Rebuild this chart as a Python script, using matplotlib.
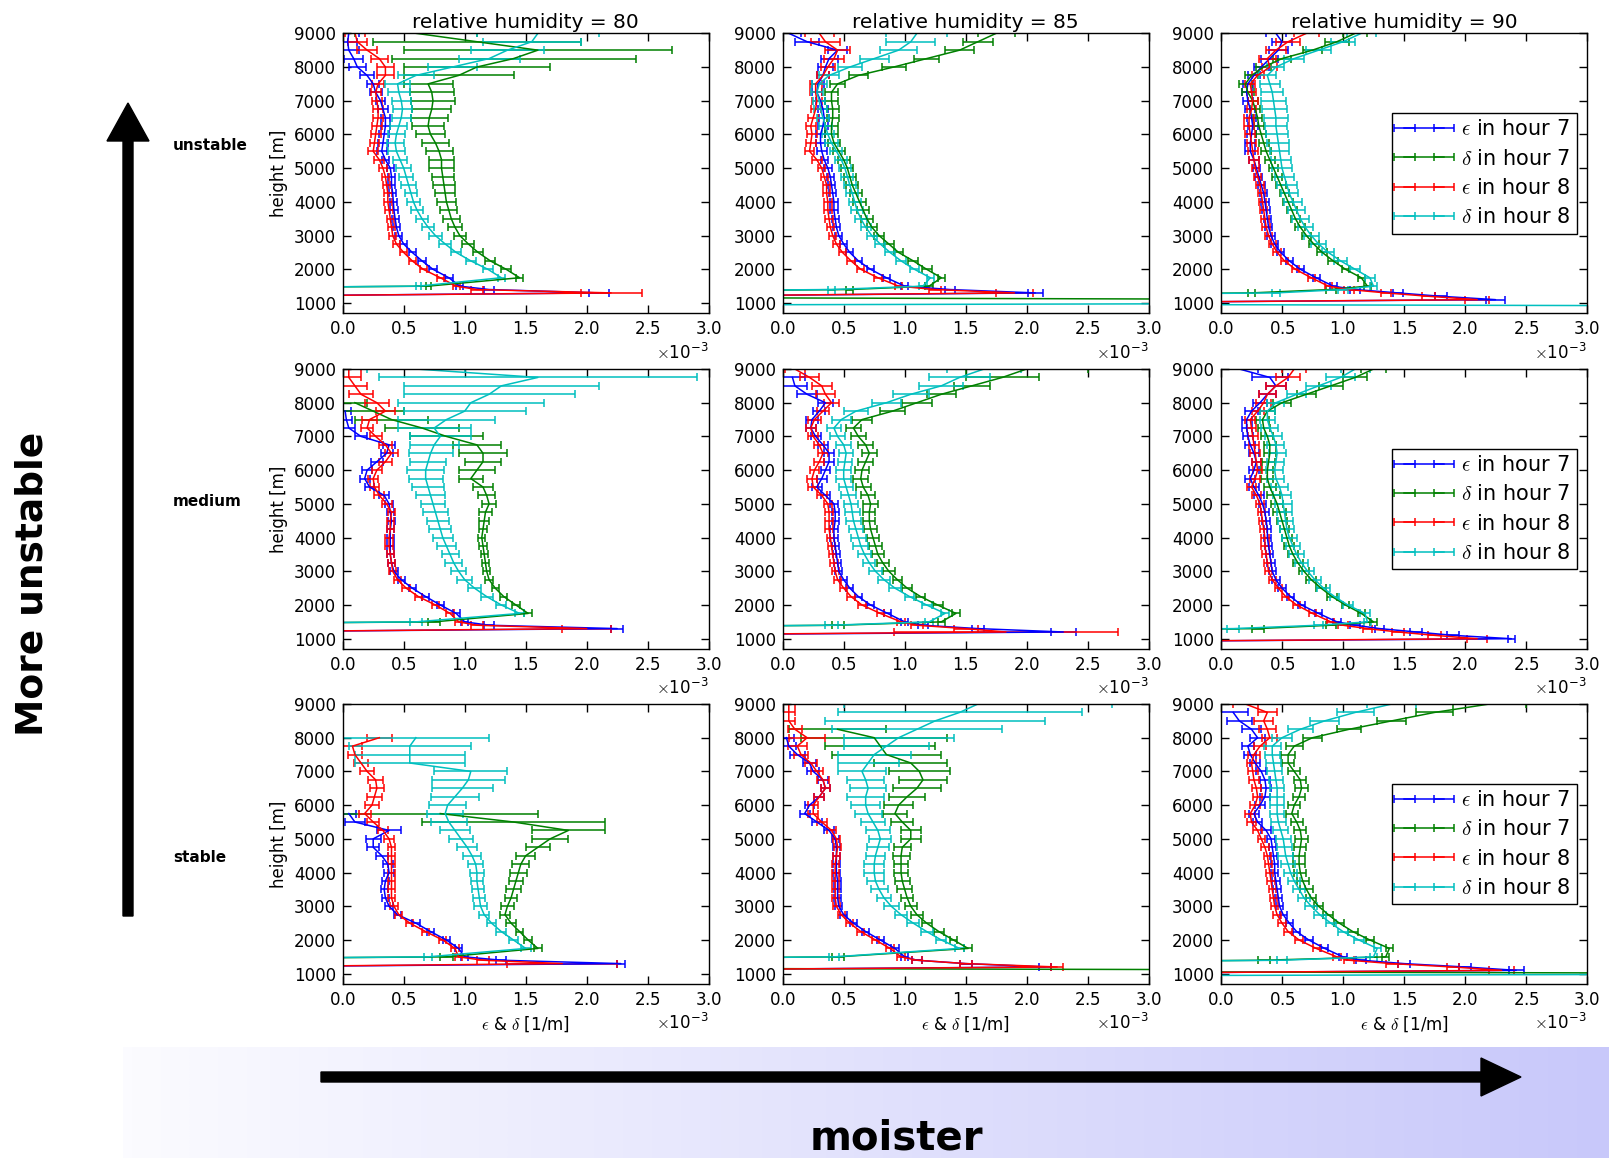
import numpy as np
import matplotlib
matplotlib.use("Agg")
import matplotlib.pyplot as plt
from matplotlib.patches import FancyArrow
from matplotlib.colors import LinearSegmentedColormap

plt.rcParams["mathtext.fontset"] = "cm"

nan = float("nan")

# ---------------------------------------------------------------- data ----
# profile levels [m]
HEIGHT = [900, 1000, 1100, 1200, 1300, 1400,
          1500, 1750, 2000, 2250, 2500, 2750, 3000, 3250, 3500, 3750,
          4000, 4250, 4500, 4750, 5000, 5250, 5500, 5750, 6000, 6250,
          6500, 6750, 7000, 7250, 7500, 7750, 8000, 8250, 8500, 8750, 9000]

HUMIDITY = [80, 85, 90]
STABILITY = ["unstable", "medium", "stable"]
SERIES_LABELS = [r"$\epsilon$ in hour 7", r"$\delta$ in hour 7",
                 r"$\epsilon$ in hour 8", r"$\delta$ in hour 8"]
SERIES_COLORS = ["b", "g", "r", "c"]

# values in units of 1e-3 1/m
# ---------- unstable, RH 80
unstable_80_eps7 = [nan, nan, nan, -1.0, 2.10, 1.20,
    0.96, 0.87, 0.74, 0.65, 0.57, 0.50, 0.46, 0.44, 0.43, 0.42,
    0.415, 0.41, 0.40, 0.40, 0.39, 0.35, 0.32, 0.33, 0.34, 0.35,
    0.35, 0.33, 0.31, 0.27, 0.25, 0.20, 0.12, 0.09, 0.05, 0.04, 0.05]
unstable_80_eps7_err = [nan, nan, nan, 0.05, 0.08, 0.04,
    0.03, 0.03, 0.03, 0.03, 0.03, 0.03, 0.03, 0.03, 0.03, 0.03,
    0.03, 0.03, 0.03, 0.03, 0.03, 0.03, 0.04, 0.04, 0.04, 0.04,
    0.04, 0.04, 0.04, 0.05, 0.05, 0.06, 0.07, 0.08, 0.08, 0.08, 0.08]
unstable_80_del7 = [nan, nan, nan, nan, nan, -3.0,
    0.70, 1.45, 1.34, 1.21, 1.11, 1.03, 0.96, 0.92, 0.89, 0.87,
    0.85, 0.84, 0.83, 0.82, 0.81, 0.81, 0.79, 0.76, 0.72, 0.70,
    0.71, 0.73, 0.74, 0.73, 0.70, 0.95, 1.10, 1.40, 1.60, 1.10, 0.60]
unstable_80_del7_err = [nan, nan, nan, nan, nan, 0.05,
    0.02, 0.03, 0.04, 0.04, 0.04, 0.05, 0.05, 0.06, 0.07, 0.07,
    0.08, 0.08, 0.09, 0.09, 0.10, 0.10, 0.11, 0.11, 0.12, 0.13,
    0.15, 0.16, 0.18, 0.18, 0.20, 0.45, 0.60, 1.00, 1.10, 0.85, 0.50]
unstable_80_eps8 = [nan, nan, nan, -1.0, 2.20, 1.10,
    0.93, 0.80, 0.66, 0.57, 0.50, 0.44, 0.41, 0.40, 0.39, 0.38,
    0.37, 0.37, 0.36, 0.35, 0.33, 0.30, 0.25, 0.26, 0.27, 0.28,
    0.29, 0.29, 0.28, 0.27, 0.29, 0.35, 0.35, 0.30, 0.20, 0.12, 0.10]
unstable_80_eps8_err = [nan, nan, nan, 0.05, 0.25, 0.05,
    0.03, 0.03, 0.03, 0.03, 0.03, 0.03, 0.03, 0.03, 0.03, 0.03,
    0.03, 0.03, 0.03, 0.03, 0.03, 0.04, 0.04, 0.04, 0.04, 0.04,
    0.04, 0.04, 0.04, 0.04, 0.05, 0.07, 0.07, 0.07, 0.08, 0.08, 0.08]
unstable_80_del8 = [nan, nan, nan, nan, nan, -3.0,
    0.62, 1.30, 1.19, 1.05, 0.93, 0.84, 0.76, 0.70, 0.65, 0.61,
    0.58, 0.56, 0.54, 0.52, 0.50, 0.47, 0.44, 0.43, 0.44, 0.46,
    0.48, 0.49, 0.48, 0.46, 0.45, 0.60, 0.90, 1.20, 1.35, 1.55, 1.60]
unstable_80_del8_err = [nan, nan, nan, nan, nan, 0.05,
    0.02, 0.03, 0.04, 0.04, 0.04, 0.05, 0.05, 0.05, 0.05, 0.05,
    0.05, 0.05, 0.06, 0.06, 0.06, 0.06, 0.07, 0.07, 0.07, 0.07,
    0.08, 0.08, 0.08, 0.09, 0.10, 0.15, 0.20, 0.25, 0.30, 0.40, 0.50]

# ---------- unstable, RH 85
unstable_85_eps7 = [nan, nan, nan, -1.0, 2.07, 1.37,
    1.00, 0.85, 0.72, 0.62, 0.55, 0.50, 0.46, 0.44, 0.43, 0.42,
    0.42, 0.41, 0.40, 0.39, 0.37, 0.34, 0.32, 0.31, 0.31, 0.33,
    0.34, 0.33, 0.31, 0.28, 0.29, 0.33, 0.35, 0.38, 0.45, 0.20, 0.05]
unstable_85_eps7_err = [nan, nan, nan, 0.05, 0.06, 0.04,
    0.03, 0.03, 0.03, 0.03, 0.03, 0.03, 0.03, 0.03, 0.03, 0.03,
    0.03, 0.03, 0.03, 0.03, 0.03, 0.03, 0.04, 0.04, 0.04, 0.04,
    0.04, 0.04, 0.04, 0.04, 0.05, 0.05, 0.06, 0.07, 0.08, 0.10, 0.10]
unstable_85_del7 = [nan, nan, 5.0, -5.0, -3.0, 0.55,
    1.20, 1.30, 1.18, 1.07, 0.95, 0.87, 0.79, 0.73, 0.69, 0.66,
    0.63, 0.60, 0.57, 0.55, 0.53, 0.50, 0.46, 0.42, 0.40, 0.40,
    0.41, 0.41, 0.40, 0.40, 0.45, 0.62, 0.91, 1.18, 1.45, 1.60, 1.75]
unstable_85_del7_err = [nan, nan, 0.05, 0.05, 0.05, 0.03,
    0.03, 0.03, 0.04, 0.04, 0.04, 0.04, 0.04, 0.04, 0.05, 0.05,
    0.05, 0.05, 0.05, 0.05, 0.05, 0.05, 0.05, 0.05, 0.05, 0.05,
    0.05, 0.05, 0.05, 0.05, 0.06, 0.08, 0.10, 0.10, 0.12, 0.12, 0.15]
unstable_85_eps8 = [nan, nan, nan, -1.0, 1.90, 1.25,
    0.95, 0.78, 0.64, 0.56, 0.49, 0.44, 0.41, 0.39, 0.38, 0.37,
    0.37, 0.36, 0.36, 0.34, 0.32, 0.28, 0.22, 0.23, 0.24, 0.23,
    0.25, 0.27, 0.28, 0.27, 0.27, 0.33, 0.37, 0.42, 0.45, 0.35, 0.30]
unstable_85_eps8_err = [nan, nan, nan, 0.05, 0.15, 0.05,
    0.03, 0.03, 0.03, 0.03, 0.03, 0.03, 0.03, 0.03, 0.03, 0.03,
    0.03, 0.03, 0.03, 0.03, 0.03, 0.04, 0.04, 0.04, 0.04, 0.04,
    0.04, 0.04, 0.04, 0.05, 0.05, 0.05, 0.06, 0.08, 0.10, 0.12, 0.12]
unstable_85_del8 = [-6.0, 6.0, nan, nan, -3.0, 0.40,
    1.15, 1.21, 1.08, 0.97, 0.88, 0.80, 0.73, 0.68, 0.64, 0.61,
    0.59, 0.57, 0.55, 0.53, 0.51, 0.48, 0.44, 0.40, 0.37, 0.35,
    0.33, 0.31, 0.30, 0.28, 0.30, 0.38, 0.55, 0.75, 0.95, 1.05, 1.10]
unstable_85_del8_err = [0.05, 0.05, nan, nan, 0.05, 0.03,
    0.03, 0.03, 0.04, 0.04, 0.04, 0.04, 0.04, 0.04, 0.05, 0.05,
    0.05, 0.05, 0.05, 0.05, 0.05, 0.05, 0.05, 0.05, 0.05, 0.05,
    0.05, 0.05, 0.05, 0.05, 0.06, 0.08, 0.10, 0.12, 0.15, 0.20, 0.25]

# ---------- unstable, RH 90
unstable_90_eps7 = [nan, -1.5, 2.25, 1.80, 1.45, 1.10,
    0.92, 0.78, 0.65, 0.56, 0.49, 0.44, 0.41, 0.39, 0.38, 0.37,
    0.36, 0.35, 0.33, 0.31, 0.29, 0.27, 0.24, 0.24, 0.25, 0.26,
    0.25, 0.24, 0.22, 0.21, 0.22, 0.27, 0.33, 0.40, 0.47, 0.50, 0.45]
unstable_90_eps7_err = [nan, 0.05, 0.08, 0.05, 0.04, 0.04,
    0.03, 0.03, 0.03, 0.03, 0.03, 0.03, 0.03, 0.03, 0.03, 0.03,
    0.03, 0.03, 0.03, 0.03, 0.03, 0.04, 0.04, 0.04, 0.04, 0.04,
    0.04, 0.04, 0.04, 0.04, 0.04, 0.05, 0.06, 0.07, 0.08, 0.08, 0.08]
unstable_90_del7 = [nan, nan, nan, -3.0, 0.25, 0.90,
    1.20, 1.15, 1.02, 0.92, 0.83, 0.76, 0.70, 0.65, 0.61, 0.58,
    0.55, 0.52, 0.49, 0.46, 0.43, 0.40, 0.37, 0.35, 0.33, 0.31,
    0.30, 0.28, 0.26, 0.22, 0.20, 0.25, 0.35, 0.50, 0.75, 0.95, 1.10]
unstable_90_del7_err = [nan, nan, nan, 0.05, 0.03, 0.04,
    0.03, 0.03, 0.03, 0.04, 0.04, 0.04, 0.04, 0.04, 0.04, 0.04,
    0.04, 0.04, 0.04, 0.04, 0.04, 0.04, 0.04, 0.04, 0.04, 0.04,
    0.04, 0.04, 0.04, 0.05, 0.05, 0.05, 0.06, 0.07, 0.08, 0.10, 0.10]
unstable_90_eps8 = [nan, -1.5, 2.10, 1.70, 1.35, 1.05,
    0.88, 0.74, 0.61, 0.52, 0.46, 0.42, 0.39, 0.37, 0.36, 0.35,
    0.34, 0.33, 0.32, 0.30, 0.28, 0.27, 0.26, 0.25, 0.24, 0.23,
    0.23, 0.25, 0.26, 0.25, 0.24, 0.30, 0.40, 0.38, 0.45, 0.55, 0.70]
unstable_90_eps8_err = [nan, 0.05, 0.10, 0.05, 0.04, 0.04,
    0.03, 0.03, 0.03, 0.03, 0.03, 0.03, 0.03, 0.03, 0.03, 0.03,
    0.03, 0.03, 0.03, 0.03, 0.03, 0.04, 0.04, 0.04, 0.04, 0.04,
    0.04, 0.04, 0.04, 0.04, 0.04, 0.05, 0.06, 0.07, 0.08, 0.10, 0.10]
unstable_90_del8 = [6.0, -6.0, nan, -3.0, 0.45, 1.00,
    1.25, 1.22, 1.10, 0.98, 0.88, 0.80, 0.74, 0.69, 0.65, 0.62,
    0.59, 0.56, 0.54, 0.52, 0.50, 0.49, 0.48, 0.47, 0.46, 0.45,
    0.45, 0.44, 0.43, 0.42, 0.40, 0.38, 0.45, 0.60, 0.80, 1.00, 1.15]
unstable_90_del8_err = [0.05, 0.05, nan, 0.05, 0.03, 0.04,
    0.03, 0.04, 0.04, 0.05, 0.05, 0.06, 0.06, 0.06, 0.07, 0.07,
    0.07, 0.07, 0.08, 0.08, 0.08, 0.08, 0.08, 0.09, 0.09, 0.09,
    0.10, 0.10, 0.10, 0.09, 0.08, 0.07, 0.07, 0.08, 0.10, 0.10, 0.12]

# ---------- medium, RH 80
medium_80_eps7 = [nan, nan, nan, -1.0, 2.25, 1.20,
    1.00, 0.93, 0.80, 0.68, 0.57, 0.48, 0.42, 0.40, 0.39, 0.39,
    0.39, 0.39, 0.40, 0.39, 0.38, 0.34, 0.22, 0.18, 0.20, 0.28,
    0.36, 0.38, 0.15, 0.05, 0.03, 0.02, nan, nan, nan, nan, nan]
medium_80_eps7_err = [nan, nan, nan, 0.05, 0.05, 0.04,
    0.03, 0.03, 0.03, 0.03, 0.03, 0.03, 0.03, 0.03, 0.03, 0.03,
    0.03, 0.03, 0.03, 0.03, 0.03, 0.04, 0.04, 0.04, 0.04, 0.05,
    0.05, 0.05, 0.05, 0.05, 0.05, 0.05, nan, nan, nan, nan, nan]
medium_80_del7 = [nan, nan, nan, nan, nan, -3.0,
    0.75, 1.52, 1.42, 1.32, 1.25, 1.20, 1.18, 1.17, 1.16, 1.15,
    1.14, 1.15, 1.16, 1.17, 1.20, 1.18, 1.15, 1.05, 1.10, 1.15,
    1.15, 1.10, 0.85, 0.65, 0.40, 0.25, 0.10, nan, nan, nan, nan]
medium_80_del7_err = [nan, nan, nan, nan, nan, 0.05,
    0.05, 0.03, 0.03, 0.03, 0.03, 0.03, 0.03, 0.03, 0.03, 0.03,
    0.03, 0.03, 0.04, 0.05, 0.06, 0.07, 0.08, 0.10, 0.15, 0.15,
    0.20, 0.20, 0.30, 0.30, 0.30, 0.25, 0.10, nan, nan, nan, nan]
medium_80_eps8 = [nan, nan, nan, -1.0, 2.00, 1.10,
    0.95, 0.88, 0.76, 0.62, 0.52, 0.45, 0.41, 0.40, 0.39, 0.38,
    0.38, 0.39, 0.39, 0.40, 0.36, 0.30, 0.26, 0.25, 0.28, 0.35,
    0.40, 0.35, 0.27, 0.20, 0.22, 0.35, 0.28, 0.15, 0.10, 0.05, 0.05]
medium_80_eps8_err = [nan, nan, nan, 0.05, 0.20, 0.05,
    0.03, 0.03, 0.03, 0.03, 0.03, 0.03, 0.03, 0.03, 0.03, 0.03,
    0.03, 0.03, 0.03, 0.03, 0.04, 0.04, 0.04, 0.04, 0.04, 0.05,
    0.05, 0.05, 0.05, 0.05, 0.06, 0.08, 0.10, 0.10, 0.10, 0.10, 0.10]
medium_80_del8 = [nan, nan, nan, nan, nan, -3.0,
    0.60, 1.45, 1.30, 1.18, 1.08, 1.00, 0.95, 0.91, 0.88, 0.85,
    0.82, 0.80, 0.78, 0.76, 0.74, 0.72, 0.70, 0.68, 0.68, 0.70,
    0.72, 0.75, 0.80, 0.75, 0.85, 1.00, 1.05, 1.20, 1.30, 1.60, 0.60]
medium_80_del8_err = [nan, nan, nan, nan, nan, 0.05,
    0.05, 0.04, 0.04, 0.05, 0.05, 0.06, 0.06, 0.07, 0.07, 0.08,
    0.08, 0.09, 0.09, 0.10, 0.10, 0.12, 0.13, 0.14, 0.15, 0.15,
    0.18, 0.20, 0.25, 0.30, 0.40, 0.50, 0.60, 0.70, 0.80, 1.30, 0.40]

# ---------- medium, RH 85
medium_85_eps7 = [nan, nan, -1.5, 2.30, 1.60, 1.15,
    1.00, 0.86, 0.72, 0.62, 0.55, 0.50, 0.46, 0.45, 0.44, 0.43,
    0.42, 0.42, 0.43, 0.43, 0.42, 0.35, 0.28, 0.32, 0.35, 0.38,
    0.38, 0.33, 0.27, 0.23, 0.24, 0.30, 0.35, 0.20, 0.10, 0.08, nan]
medium_85_eps7_err = [nan, nan, 0.05, 0.10, 0.05, 0.04,
    0.03, 0.03, 0.03, 0.03, 0.03, 0.03, 0.03, 0.03, 0.03, 0.03,
    0.03, 0.03, 0.03, 0.03, 0.03, 0.04, 0.04, 0.04, 0.04, 0.04,
    0.04, 0.04, 0.04, 0.04, 0.05, 0.05, 0.06, 0.08, 0.10, 0.10, nan]
medium_85_del7 = [nan, nan, nan, nan, -3.0, 0.45,
    1.30, 1.42, 1.27, 1.13, 1.02, 0.94, 0.87, 0.82, 0.78, 0.76,
    0.74, 0.72, 0.71, 0.71, 0.72, 0.70, 0.66, 0.64, 0.65, 0.68,
    0.71, 0.68, 0.62, 0.58, 0.65, 0.90, 1.10, 1.30, 1.55, 1.80, 2.00]
medium_85_del7_err = [nan, nan, nan, nan, 0.05, 0.05,
    0.03, 0.03, 0.04, 0.04, 0.04, 0.04, 0.05, 0.05, 0.05, 0.05,
    0.05, 0.05, 0.05, 0.05, 0.06, 0.06, 0.06, 0.06, 0.06, 0.06,
    0.06, 0.06, 0.06, 0.06, 0.08, 0.10, 0.12, 0.12, 0.15, 0.30, 0.50]
medium_85_eps8 = [nan, nan, -1.5, 1.83, 1.50, 1.10,
    0.97, 0.80, 0.65, 0.56, 0.50, 0.45, 0.43, 0.42, 0.41, 0.40,
    0.39, 0.38, 0.38, 0.38, 0.37, 0.32, 0.25, 0.24, 0.26, 0.30,
    0.33, 0.30, 0.25, 0.23, 0.26, 0.33, 0.40, 0.35, 0.32, 0.22, 0.10]
medium_85_eps8_err = [nan, nan, 0.05, 0.92, 0.10, 0.05,
    0.03, 0.03, 0.03, 0.03, 0.03, 0.03, 0.03, 0.03, 0.03, 0.03,
    0.03, 0.03, 0.03, 0.03, 0.03, 0.04, 0.04, 0.04, 0.04, 0.04,
    0.04, 0.04, 0.04, 0.04, 0.05, 0.05, 0.06, 0.08, 0.08, 0.08, 0.08]
medium_85_del8 = [nan, nan, nan, nan, -3.0, 0.40,
    1.20, 1.33, 1.18, 1.04, 0.92, 0.83, 0.76, 0.71, 0.67, 0.64,
    0.62, 0.60, 0.58, 0.57, 0.56, 0.54, 0.52, 0.50, 0.50, 0.51,
    0.52, 0.50, 0.45, 0.42, 0.48, 0.60, 0.85, 1.05, 1.30, 1.45, 1.65]
medium_85_del8_err = [nan, nan, nan, nan, 0.05, 0.05,
    0.03, 0.03, 0.04, 0.04, 0.05, 0.05, 0.05, 0.05, 0.05, 0.06,
    0.06, 0.06, 0.06, 0.06, 0.06, 0.06, 0.06, 0.06, 0.06, 0.06,
    0.06, 0.06, 0.06, 0.06, 0.08, 0.10, 0.12, 0.15, 0.18, 0.25, 0.30]

# ---------- medium, RH 90
medium_90_eps7 = [-1.5, 2.38, 1.90, 1.60, 1.30, 1.10,
    0.95, 0.80, 0.66, 0.57, 0.50, 0.45, 0.42, 0.41, 0.40, 0.39,
    0.38, 0.38, 0.37, 0.36, 0.34, 0.31, 0.27, 0.24, 0.27, 0.29,
    0.27, 0.24, 0.22, 0.21, 0.21, 0.25, 0.32, 0.38, 0.45, 0.40, 0.15]
medium_90_eps7_err = [0.05, 0.03, 0.05, 0.05, 0.04, 0.04,
    0.03, 0.03, 0.03, 0.03, 0.03, 0.03, 0.03, 0.03, 0.03, 0.03,
    0.03, 0.03, 0.03, 0.03, 0.03, 0.04, 0.04, 0.04, 0.04, 0.04,
    0.04, 0.04, 0.04, 0.04, 0.04, 0.05, 0.06, 0.07, 0.08, 0.15, 0.15]
medium_90_del7 = [nan, nan, nan, -3.0, 0.30, 0.90,
    1.25, 1.15, 1.02, 0.91, 0.82, 0.74, 0.68, 0.63, 0.59, 0.56,
    0.54, 0.52, 0.50, 0.48, 0.46, 0.43, 0.40, 0.38, 0.38, 0.39,
    0.40, 0.40, 0.38, 0.35, 0.34, 0.38, 0.50, 0.70, 0.90, 1.10, 1.25]
medium_90_del7_err = [nan, nan, nan, 0.05, 0.05, 0.04,
    0.03, 0.03, 0.03, 0.04, 0.04, 0.04, 0.04, 0.04, 0.04, 0.04,
    0.04, 0.04, 0.04, 0.05, 0.05, 0.05, 0.05, 0.05, 0.05, 0.05,
    0.05, 0.05, 0.05, 0.05, 0.05, 0.06, 0.07, 0.08, 0.10, 0.10, 0.10]
medium_90_eps8 = [-1.5, 2.10, 1.75, 1.45, 1.20, 1.00,
    0.90, 0.75, 0.62, 0.53, 0.47, 0.42, 0.39, 0.38, 0.37, 0.36,
    0.36, 0.35, 0.34, 0.33, 0.32, 0.29, 0.25, 0.28, 0.30, 0.29,
    0.28, 0.27, 0.26, 0.25, 0.24, 0.30, 0.35, 0.38, 0.45, 0.55, 0.60]
medium_90_eps8_err = [0.05, 0.08, 0.05, 0.05, 0.04, 0.04,
    0.03, 0.03, 0.03, 0.03, 0.03, 0.03, 0.03, 0.03, 0.03, 0.03,
    0.03, 0.03, 0.03, 0.03, 0.03, 0.04, 0.04, 0.04, 0.04, 0.04,
    0.04, 0.04, 0.04, 0.04, 0.04, 0.05, 0.06, 0.07, 0.08, 0.10, 0.10]
medium_90_del8 = [nan, nan, nan, -3.0, 0.10, 0.80,
    1.20, 1.18, 1.04, 0.93, 0.84, 0.77, 0.71, 0.66, 0.62, 0.59,
    0.56, 0.54, 0.53, 0.52, 0.51, 0.50, 0.48, 0.45, 0.44, 0.45,
    0.46, 0.45, 0.43, 0.40, 0.38, 0.38, 0.45, 0.62, 0.80, 0.98, 1.10]
medium_90_del8_err = [nan, nan, nan, 0.05, 0.05, 0.04,
    0.03, 0.04, 0.04, 0.04, 0.05, 0.05, 0.05, 0.05, 0.06, 0.06,
    0.06, 0.06, 0.06, 0.06, 0.07, 0.07, 0.07, 0.07, 0.07, 0.07,
    0.07, 0.07, 0.07, 0.07, 0.06, 0.06, 0.07, 0.08, 0.10, 0.12, 0.12]

# ---------- stable, RH 80
stable_80_eps7 = [nan, nan, nan, -1.0, 2.28, 1.30,
    1.00, 0.95, 0.85, 0.72, 0.60, 0.45, 0.38, 0.35, 0.34, 0.35,
    0.38, 0.37, 0.32, 0.25, 0.25, 0.38, 0.10, 0.05, nan, nan,
    nan, nan, nan, nan, nan, nan, nan, nan, nan, nan, nan]
stable_80_eps7_err = [nan, nan, nan, 0.05, 0.03, 0.04,
    0.03, 0.03, 0.03, 0.03, 0.03, 0.03, 0.03, 0.03, 0.03, 0.03,
    0.04, 0.04, 0.05, 0.05, 0.06, 0.10, 0.08, 0.06, nan, nan,
    nan, nan, nan, nan, nan, nan, nan, nan, nan, nan, nan]
stable_80_del7 = [nan, nan, nan, nan, nan, -3.0,
    0.85, 1.60, 1.52, 1.45, 1.38, 1.33, 1.35, 1.38, 1.40, 1.42,
    1.44, 1.46, 1.50, 1.60, 1.70, 1.85, 1.40, 0.80, nan, nan,
    nan, nan, nan, nan, nan, nan, nan, nan, nan, nan, nan]
stable_80_del7_err = [nan, nan, nan, nan, nan, 0.05,
    0.05, 0.03, 0.03, 0.03, 0.04, 0.04, 0.05, 0.05, 0.06, 0.06,
    0.07, 0.07, 0.08, 0.10, 0.15, 0.30, 0.75, 0.80, nan, nan,
    nan, nan, nan, nan, nan, nan, nan, nan, nan, nan, nan]
stable_80_eps8 = [nan, nan, nan, -1.0, 1.80, 1.15,
    0.95, 0.92, 0.82, 0.68, 0.55, 0.46, 0.42, 0.40, 0.40, 0.40,
    0.40, 0.40, 0.40, 0.40, 0.38, 0.33, 0.25, 0.18, 0.24, 0.26,
    0.28, 0.27, 0.20, 0.15, 0.10, 0.08, 0.30, nan, nan, nan, nan]
stable_80_eps8_err = [nan, nan, nan, 0.05, 0.45, 0.05,
    0.03, 0.03, 0.03, 0.03, 0.03, 0.03, 0.03, 0.03, 0.03, 0.03,
    0.03, 0.03, 0.03, 0.03, 0.04, 0.04, 0.05, 0.05, 0.06, 0.06,
    0.06, 0.06, 0.06, 0.06, 0.06, 0.08, 0.10, nan, nan, nan, nan]
stable_80_del8 = [nan, nan, nan, nan, nan, -3.0,
    0.70, 1.50, 1.40, 1.30, 1.22, 1.16, 1.13, 1.12, 1.11, 1.10,
    1.10, 1.09, 1.06, 1.02, 0.97, 0.92, 0.87, 0.84, 0.86, 0.92,
    0.98, 1.03, 1.05, 0.55, 0.55, 0.55, 0.60, nan, nan, nan, nan]
stable_80_del8_err = [nan, nan, nan, nan, nan, 0.05,
    0.03, 0.04, 0.04, 0.04, 0.04, 0.04, 0.05, 0.05, 0.05, 0.05,
    0.06, 0.06, 0.07, 0.08, 0.10, 0.12, 0.15, 0.15, 0.15, 0.20,
    0.25, 0.30, 0.30, 0.45, 0.45, 0.50, 0.60, nan, nan, nan, nan]

# ---------- stable, RH 85
stable_85_eps7 = [nan, nan, -1.5, 2.15, 1.50, 1.10,
    1.00, 0.92, 0.80, 0.68, 0.58, 0.50, 0.46, 0.45, 0.45, 0.45,
    0.44, 0.44, 0.44, 0.44, 0.43, 0.38, 0.28, 0.18, 0.22, 0.30,
    0.35, 0.33, 0.25, 0.22, 0.12, 0.05, 0.03, nan, nan, nan, nan]
stable_85_eps7_err = [nan, nan, 0.05, 0.05, 0.05, 0.04,
    0.03, 0.03, 0.03, 0.03, 0.03, 0.03, 0.03, 0.03, 0.03, 0.03,
    0.03, 0.03, 0.03, 0.03, 0.03, 0.04, 0.04, 0.04, 0.04, 0.04,
    0.04, 0.04, 0.05, 0.05, 0.06, 0.06, 0.06, nan, nan, nan, nan]
stable_85_del7 = [nan, nan, 6.0, -6.0, nan, -3.0,
    0.45, 1.52, 1.40, 1.28, 1.18, 1.10, 1.05, 1.02, 1.00, 0.98,
    0.97, 0.97, 0.97, 0.98, 1.05, 1.05, 0.98, 0.92, 0.95, 1.02,
    1.10, 1.15, 1.12, 1.05, 0.85, 0.80, 0.75, 0.45, nan, nan, nan]
stable_85_del7_err = [nan, nan, 0.05, 0.05, nan, 0.05,
    0.05, 0.03, 0.03, 0.04, 0.04, 0.05, 0.05, 0.05, 0.06, 0.06,
    0.06, 0.06, 0.07, 0.07, 0.08, 0.08, 0.09, 0.10, 0.12, 0.15,
    0.20, 0.20, 0.25, 0.30, 0.45, 0.45, 0.60, 0.40, nan, nan, nan]
stable_85_eps8 = [nan, nan, -1.5, 2.25, 1.50, 1.10,
    0.97, 0.88, 0.76, 0.64, 0.55, 0.48, 0.44, 0.43, 0.43, 0.43,
    0.43, 0.43, 0.44, 0.45, 0.44, 0.40, 0.32, 0.25, 0.25, 0.30,
    0.35, 0.33, 0.28, 0.23, 0.15, 0.12, 0.20, 0.10, 0.05, 0.05, 0.05]
stable_85_eps8_err = [nan, nan, 0.05, 0.05, 0.05, 0.04,
    0.03, 0.03, 0.03, 0.03, 0.03, 0.03, 0.03, 0.03, 0.03, 0.03,
    0.03, 0.03, 0.03, 0.03, 0.03, 0.04, 0.04, 0.04, 0.04, 0.04,
    0.04, 0.05, 0.05, 0.05, 0.06, 0.08, 0.15, 0.06, 0.05, 0.05, 0.05]
stable_85_del8 = [nan, nan, nan, nan, nan, -3.0,
    0.42, 1.45, 1.30, 1.18, 1.07, 0.97, 0.89, 0.83, 0.79, 0.76,
    0.75, 0.75, 0.76, 0.78, 0.80, 0.78, 0.74, 0.70, 0.68, 0.68,
    0.70, 0.68, 0.65, 0.70, 0.75, 0.85, 0.95, 1.10, 1.25, 1.45, 1.60]
stable_85_del8_err = [nan, nan, nan, nan, nan, 0.04,
    0.04, 0.04, 0.04, 0.05, 0.05, 0.05, 0.06, 0.06, 0.07, 0.07,
    0.08, 0.08, 0.08, 0.09, 0.09, 0.10, 0.10, 0.11, 0.12, 0.15,
    0.15, 0.15, 0.20, 0.25, 0.30, 0.35, 0.45, 0.70, 0.90, 1.00, 1.10]

# ---------- stable, RH 90
stable_90_eps7 = [nan, -1.5, 2.42, 2.00, 1.50, 1.15,
    1.00, 0.85, 0.72, 0.62, 0.56, 0.51, 0.48, 0.47, 0.46, 0.45,
    0.44, 0.44, 0.43, 0.42, 0.41, 0.37, 0.30, 0.27, 0.32, 0.36,
    0.37, 0.36, 0.33, 0.28, 0.24, 0.22, 0.30, 0.25, 0.15, 0.10, nan]
stable_90_eps7_err = [nan, 0.05, 0.06, 0.05, 0.05, 0.04,
    0.03, 0.03, 0.03, 0.03, 0.03, 0.03, 0.03, 0.03, 0.03, 0.03,
    0.03, 0.03, 0.03, 0.03, 0.03, 0.04, 0.04, 0.04, 0.04, 0.04,
    0.04, 0.04, 0.04, 0.04, 0.05, 0.05, 0.06, 0.08, 0.10, 0.12, nan]
stable_90_del7 = [nan, 6.0, -6.0, nan, -3.0, 0.35,
    1.35, 1.38, 1.22, 1.08, 0.97, 0.88, 0.80, 0.74, 0.70, 0.67,
    0.65, 0.64, 0.64, 0.65, 0.66, 0.65, 0.62, 0.58, 0.60, 0.64,
    0.66, 0.65, 0.60, 0.55, 0.55, 0.60, 0.75, 1.05, 1.40, 1.75, 2.20]
stable_90_del7_err = [nan, 0.05, 0.05, nan, 0.05, 0.05,
    0.03, 0.03, 0.03, 0.04, 0.04, 0.04, 0.04, 0.04, 0.05, 0.05,
    0.05, 0.05, 0.05, 0.05, 0.05, 0.05, 0.05, 0.05, 0.05, 0.05,
    0.05, 0.05, 0.05, 0.05, 0.06, 0.07, 0.08, 0.10, 0.12, 0.15, 0.30]
stable_90_eps8 = [nan, -1.5, 2.30, 1.90, 1.40, 1.05,
    0.95, 0.78, 0.64, 0.55, 0.50, 0.46, 0.44, 0.43, 0.42, 0.41,
    0.40, 0.39, 0.38, 0.36, 0.33, 0.30, 0.25, 0.24, 0.28, 0.30,
    0.29, 0.27, 0.26, 0.25, 0.27, 0.32, 0.40, 0.38, 0.35, 0.38, 0.20]
stable_90_eps8_err = [nan, 0.05, 0.10, 0.05, 0.05, 0.04,
    0.03, 0.03, 0.03, 0.03, 0.03, 0.03, 0.03, 0.03, 0.03, 0.03,
    0.03, 0.03, 0.03, 0.03, 0.03, 0.04, 0.04, 0.04, 0.04, 0.04,
    0.04, 0.04, 0.04, 0.04, 0.05, 0.05, 0.06, 0.07, 0.08, 0.08, 0.10]
stable_90_del8 = [-6.0, 6.0, nan, nan, -3.0, 0.50,
    1.25, 1.28, 1.13, 1.00, 0.90, 0.81, 0.74, 0.68, 0.64, 0.60,
    0.57, 0.55, 0.53, 0.52, 0.51, 0.49, 0.47, 0.46, 0.46, 0.46,
    0.46, 0.45, 0.44, 0.43, 0.42, 0.42, 0.50, 0.65, 0.85, 1.10, 1.40]
stable_90_del8_err = [0.05, 0.05, nan, nan, 0.05, 0.04,
    0.03, 0.03, 0.04, 0.04, 0.04, 0.05, 0.05, 0.05, 0.05, 0.05,
    0.05, 0.06, 0.06, 0.06, 0.06, 0.06, 0.06, 0.06, 0.06, 0.06,
    0.06, 0.06, 0.06, 0.06, 0.06, 0.07, 0.08, 0.10, 0.12, 0.15, 0.20]

PANELS = {
    ("unstable", 80): [(unstable_80_eps7, unstable_80_eps7_err), (unstable_80_del7, unstable_80_del7_err),
                       (unstable_80_eps8, unstable_80_eps8_err), (unstable_80_del8, unstable_80_del8_err)],
    ("unstable", 85): [(unstable_85_eps7, unstable_85_eps7_err), (unstable_85_del7, unstable_85_del7_err),
                       (unstable_85_eps8, unstable_85_eps8_err), (unstable_85_del8, unstable_85_del8_err)],
    ("unstable", 90): [(unstable_90_eps7, unstable_90_eps7_err), (unstable_90_del7, unstable_90_del7_err),
                       (unstable_90_eps8, unstable_90_eps8_err), (unstable_90_del8, unstable_90_del8_err)],
    ("medium", 80): [(medium_80_eps7, medium_80_eps7_err), (medium_80_del7, medium_80_del7_err),
                     (medium_80_eps8, medium_80_eps8_err), (medium_80_del8, medium_80_del8_err)],
    ("medium", 85): [(medium_85_eps7, medium_85_eps7_err), (medium_85_del7, medium_85_del7_err),
                     (medium_85_eps8, medium_85_eps8_err), (medium_85_del8, medium_85_del8_err)],
    ("medium", 90): [(medium_90_eps7, medium_90_eps7_err), (medium_90_del7, medium_90_del7_err),
                     (medium_90_eps8, medium_90_eps8_err), (medium_90_del8, medium_90_del8_err)],
    ("stable", 80): [(stable_80_eps7, stable_80_eps7_err), (stable_80_del7, stable_80_del7_err),
                     (stable_80_eps8, stable_80_eps8_err), (stable_80_del8, stable_80_del8_err)],
    ("stable", 85): [(stable_85_eps7, stable_85_eps7_err), (stable_85_del7, stable_85_del7_err),
                     (stable_85_eps8, stable_85_eps8_err), (stable_85_del8, stable_85_del8_err)],
    ("stable", 90): [(stable_90_eps7, stable_90_eps7_err), (stable_90_del7, stable_90_del7_err),
                     (stable_90_eps8, stable_90_eps8_err), (stable_90_del8, stable_90_del8_err)],
}
UNIT = 1e-3

# -------------------------------------------------------------- layout ----
W, H = 1609, 1158
fig = plt.figure(figsize=(W / 100, H / 100), dpi=100)

bg = fig.add_axes([0, 0, 1, 1])
band_cmap = LinearSegmentedColormap.from_list("band", ["#fbfbff", "#c8c8fa"])
bg.imshow(np.linspace(0, 1, 256)[None, :], extent=[123, W, H, 1047],
          cmap=band_cmap, aspect="auto", interpolation="bilinear")
bg.set_xlim(0, W)
bg.set_ylim(H, 0)
bg.axis("off")
bg.add_patch(FancyArrow(128, 916, 0, -813, width=10, head_width=42, head_length=38,
                        length_includes_head=True, color="black"))
bg.add_patch(FancyArrow(321, 1077, 1200, 0, width=10, head_width=38, head_length=40,
                        length_includes_head=True, color="black"))
bg.text(33, 584, "More unstable", rotation=90, fontsize=27, fontweight="bold",
        ha="center", va="center")
bg.text(896, 1138, "moister", fontsize=29, fontweight="bold", ha="center", va="center")
for lab, ypix in zip(STABILITY, [145, 502, 858]):
    bg.text(173, ypix, lab, fontsize=11, fontweight="bold", ha="left", va="center")

COL_LEFT = [342.7, 782.7, 1221.0]
ROW_TOP = [33.3, 369.0, 704.0]
AX_W, AX_H = 366.0, 280.0

for i, stab in enumerate(STABILITY):
    for j, rh in enumerate(HUMIDITY):
        ax = fig.add_axes([COL_LEFT[j] / W, 1 - (ROW_TOP[i] + AX_H) / H, AX_W / W, AX_H / H])
        for (vals, errs), col, lab in zip(PANELS[(stab, rh)], SERIES_COLORS, SERIES_LABELS):
            ax.errorbar(np.array(vals) * UNIT, HEIGHT, xerr=np.array(errs) * UNIT,
                        color=col, lw=1.1, elinewidth=1.1, capsize=3, capthick=1.1,
                        label=lab)
        ax.set_xlim(0, 3e-3)
        ax.set_ylim(695, 9000)
        ax.set_xticks([0, 0.5e-3, 1.0e-3, 1.5e-3, 2.0e-3, 2.5e-3, 3.0e-3])
        ax.set_yticks(range(1000, 9001, 1000))
        ax.ticklabel_format(axis="x", style="sci", scilimits=(0, 0), useMathText=True)
        ax.tick_params(direction="in", top=True, right=True, length=6, width=1,
                       labelsize=12, pad=5)
        ax.xaxis.get_offset_text().set_fontsize(12)
        for sp in ax.spines.values():
            sp.set_linewidth(1.0)
        if i == 0:
            ax.set_title(f"relative humidity = {rh}", fontsize=14.5, pad=4)
        if j == 0:
            ax.set_ylabel("height [m]", fontsize=12)
        if i == 2:
            ax.set_xlabel(r"$\epsilon$ & $\delta$ [1/m]", fontsize=12)
        if j == 2:
            leg = ax.legend(loc="center right", fontsize=15, fancybox=False, framealpha=1,
                            edgecolor="black", borderpad=0.3, handlelength=2.5,
                            handletextpad=0.5, labelspacing=0.45, borderaxespad=0.5,
                            numpoints=2)
            leg.get_frame().set_linewidth(1.0)

fig.savefig("out.png", dpi=100)
